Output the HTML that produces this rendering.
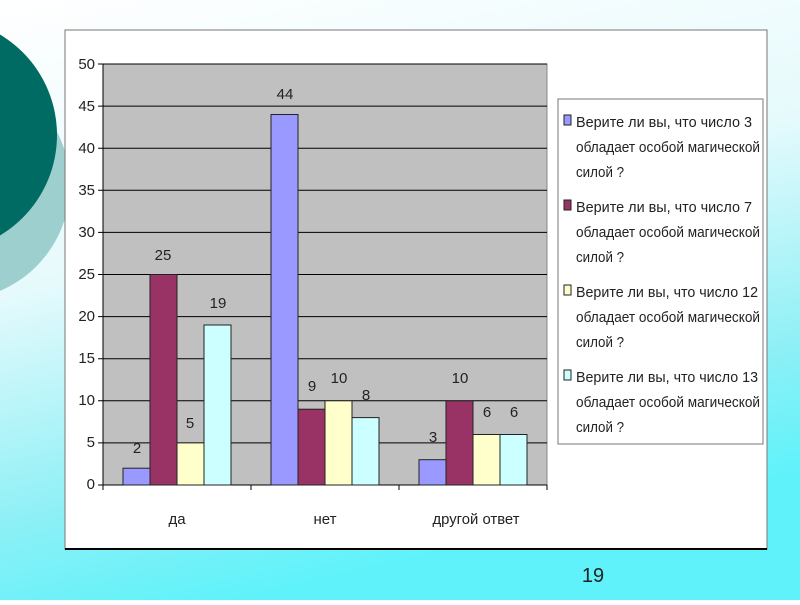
<!DOCTYPE html>
<html><head><meta charset="utf-8"><style>
body{margin:0;width:800px;height:600px;overflow:hidden;font-family:"Liberation Sans",sans-serif;}
</style></head><body>
<svg width="800" height="600" xmlns="http://www.w3.org/2000/svg" font-family="Liberation Sans, sans-serif">
<defs>
<linearGradient id="bg" x1="0" y1="0" x2="0.3" y2="1">
<stop offset="0" stop-color="#ffffff"/><stop offset="0.45" stop-color="#e6fafc"/><stop offset="0.8" stop-color="#8ef0f6"/><stop offset="1" stop-color="#5ff2fa"/></linearGradient>
</defs>
<rect width="800" height="600" fill="url(#bg)"/>
<circle cx="-45" cy="185" r="115" fill="#9ccfcd"/>
<circle cx="-60" cy="135" r="117" fill="#006b63"/>
<rect x="65" y="30" width="702" height="519" fill="#fff" stroke="#777" stroke-width="1"/>
<line x1="65" y1="549" x2="767" y2="549" stroke="#000" stroke-width="2"/>
<rect x="103" y="64" width="444" height="421" fill="#c0c0c0" stroke="#888"/>
<g stroke="#000" stroke-width="1">
<line x1="98" y1="64" x2="547" y2="64"/><line x1="98" y1="106.1" x2="547" y2="106.1"/><line x1="98" y1="148.2" x2="547" y2="148.2"/><line x1="98" y1="190.3" x2="547" y2="190.3"/><line x1="98" y1="232.4" x2="547" y2="232.4"/><line x1="98" y1="274.5" x2="547" y2="274.5"/><line x1="98" y1="316.6" x2="547" y2="316.6"/><line x1="98" y1="358.7" x2="547" y2="358.7"/><line x1="98" y1="400.8" x2="547" y2="400.8"/><line x1="98" y1="442.9" x2="547" y2="442.9"/><line x1="98" y1="485" x2="547" y2="485"/>
<line x1="103" y1="64" x2="103" y2="490"/><line x1="251" y1="485" x2="251" y2="490"/><line x1="399" y1="485" x2="399" y2="490"/><line x1="547" y1="485" x2="547" y2="490"/>
</g>
<g font-size="15" fill="#222" text-anchor="end">
<text x="95" y="69">50</text><text x="95" y="111">45</text><text x="95" y="153">40</text><text x="95" y="195">35</text><text x="95" y="237">30</text><text x="95" y="279">25</text><text x="95" y="321">20</text><text x="95" y="363">15</text><text x="95" y="405">10</text><text x="95" y="447">5</text><text x="95" y="489">0</text>
</g>
<g stroke="#222" stroke-width="1">
<rect x="123" y="468.2" width="27" height="16.8" fill="#9999ff"/>
<rect x="150" y="274.5" width="27" height="210.5" fill="#993366"/>
<rect x="177" y="442.9" width="27" height="42.1" fill="#ffffcc"/>
<rect x="204" y="325" width="27" height="160" fill="#ccffff"/>
<rect x="271" y="114.5" width="27" height="370.5" fill="#9999ff"/>
<rect x="298" y="409.2" width="27" height="75.8" fill="#993366"/>
<rect x="325" y="400.8" width="27" height="84.2" fill="#ffffcc"/>
<rect x="352" y="417.6" width="27" height="67.4" fill="#ccffff"/>
<rect x="419" y="459.7" width="27" height="25.3" fill="#9999ff"/>
<rect x="446" y="400.8" width="27" height="84.2" fill="#993366"/>
<rect x="473" y="434.5" width="27" height="50.5" fill="#ffffcc"/>
<rect x="500" y="434.5" width="27" height="50.5" fill="#ccffff"/>
</g>
<g font-size="15" fill="#222" text-anchor="middle">
<text x="137" y="453">2</text><text x="163" y="260">25</text><text x="190" y="428">5</text><text x="218" y="308">19</text>
<text x="285" y="99">44</text><text x="312" y="391">9</text><text x="339" y="383">10</text><text x="366" y="400">8</text>
<text x="433" y="442">3</text><text x="460" y="383">10</text><text x="487" y="417">6</text><text x="514" y="417">6</text>
<text x="177" y="524">да</text><text x="325" y="524">нет</text><text x="476" y="524" textLength="87" lengthAdjust="spacingAndGlyphs">другой ответ</text>
</g>
<rect x="558" y="99" width="205" height="345" fill="#fff" stroke="#777"/>
<g font-size="15" fill="#222">
<rect x="564" y="115" width="7" height="10" fill="#9999ff" stroke="#222"/>
<text x="576" y="127" textLength="176" lengthAdjust="spacingAndGlyphs">Верите ли вы, что число  3</text><text x="576" y="152" textLength="184" lengthAdjust="spacingAndGlyphs">обладает особой магической</text><text x="576" y="177" textLength="48" lengthAdjust="spacingAndGlyphs">силой ?</text>
<rect x="564" y="200" width="7" height="10" fill="#993366" stroke="#222"/>
<text x="576" y="212" textLength="176" lengthAdjust="spacingAndGlyphs">Верите ли вы, что число  7</text><text x="576" y="237" textLength="184" lengthAdjust="spacingAndGlyphs">обладает особой магической</text><text x="576" y="262" textLength="48" lengthAdjust="spacingAndGlyphs">силой ?</text>
<rect x="564" y="285" width="7" height="10" fill="#ffffcc" stroke="#222"/>
<text x="576" y="297" textLength="182" lengthAdjust="spacingAndGlyphs">Верите ли вы, что число  12</text><text x="576" y="322" textLength="184" lengthAdjust="spacingAndGlyphs">обладает особой магической</text><text x="576" y="347" textLength="48" lengthAdjust="spacingAndGlyphs">силой ?</text>
<rect x="564" y="370" width="7" height="10" fill="#ccffff" stroke="#222"/>
<text x="576" y="382" textLength="182" lengthAdjust="spacingAndGlyphs">Верите ли вы, что число  13</text><text x="576" y="407" textLength="184" lengthAdjust="spacingAndGlyphs">обладает особой магической</text><text x="576" y="432" textLength="48" lengthAdjust="spacingAndGlyphs">силой ?</text>
</g>
<text x="593" y="582" font-size="20" fill="#222" text-anchor="middle">19</text>
</svg>
</body></html>
